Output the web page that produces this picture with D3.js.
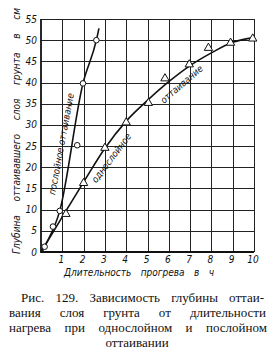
<!DOCTYPE html>
<html>
<head>
<meta charset="utf-8">
<script src="https://cdn.jsdelivr.net/npm/d3@7"></script>
<style>
  html, body { margin: 0; padding: 0; background: #fff; }
  svg { display: block; }
  .tick-lbl { font-family: 'DejaVu Sans Condensed', 'DejaVu Sans', sans-serif; font-style: italic; font-size: 10px; fill: #111; }
  .ax-title { font-family: 'DejaVu Sans Condensed', 'DejaVu Sans', sans-serif; font-style: italic; font-size: 10px; fill: #111; }
  .curve-lbl { font-family: 'DejaVu Sans Condensed', 'DejaVu Sans', sans-serif; font-style: italic; font-size: 9.5px; fill: #111; }
  .caption { font-family: 'Liberation Serif', 'DejaVu Serif', serif; font-size: 13px; fill: #111; }
</style>
</head>
<body>
<div id="chart"></div>
<script>
  'use strict';

  // tick labels
  var xTickLabels = [1, 2, 3, 4, 5, 6, 7, 8, 9, 10];
  var yTickLabels = [0, 5, 10, 15, 20, 25, 30, 35, 40, 45, 50, 55];

  // послойное оттаивание (circles)
  var layeredX = [0.17, 0.56, 0.88, 1.7, 1.97, 2.6];
  var layeredY = [1.25, 6.0, 9.7, 25.2, 39.8, 50];
  // line as drawn through them
  var layeredLineX = [0.05, 0.17, 0.88, 1.97, 2.6, 2.72];
  var layeredLineY = [0, 1.25, 9.7, 39.8, 50, 52.8];

  // однослойное оттаивание (triangles)
  var singleX = [1.17, 2.0, 3.0, 4.0, 5.04, 5.82, 6.96, 7.86, 8.9, 9.94];
  var singleY = [9.2, 16.5, 24.8, 30.8, 35.4, 41.2, 44.5, 48.4, 49.6, 50.6];
  var singleLineX = [0, 1, 2, 3, 4, 5, 6, 7, 8, 9, 10];
  var singleLineY = [0, 8.3, 16.5, 24.5, 30.9, 35.8, 40.2, 44.0, 47.0, 49.5, 50.6];

  var yTitle = 'Глубина оттаивавшего слоя грунта в см';
  var xTitle = 'Длительность прогрева в ч';
  var captionLines = [
    'Рис. 129. Зависимость глубины оттаи-',
    'вания слоя грунта от длительности',
    'нагрева при однослойном и послойном',
    'оттаивании'
  ];

  var W = 276, H = 354;
  var area = { left: 41, right: 254, top: 19, bottom: 252 };

  var svg = d3.select('#chart').append('svg')
    .attr('width', W)
    .attr('height', H);

  svg.append('rect').attr('width', W).attr('height', H).attr('fill', '#fff');

  var x = d3.scaleLinear().domain([0, 10]).range([area.left, area.right]);
  var y = d3.scaleLinear().domain([0, 55]).range([area.bottom, area.top]);

  // grid
  var grid = svg.append('g').attr('stroke', '#222').attr('stroke-width', 1);
  grid.selectAll('line.v')
    .data(xTickLabels)
    .enter().append('line')
      .attr('x1', function(d) { return Math.round(x(d)) + 0.5; })
      .attr('x2', function(d) { return Math.round(x(d)) + 0.5; })
      .attr('y1', y(55))
      .attr('y2', y(0));
  grid.selectAll('line.h')
    .data(yTickLabels.slice(1))
    .enter().append('line')
      .attr('x1', x(0))
      .attr('x2', x(10))
      .attr('y1', function(d) { return Math.round(y(d)) + 0.5; })
      .attr('y2', function(d) { return Math.round(y(d)) + 0.5; });

  // axes lines (heavier)
  svg.append('line')
    .attr('x1', x(0)).attr('x2', x(0)).attr('y1', y(55)).attr('y2', y(0) + 1)
    .attr('stroke', '#111').attr('stroke-width', 1.8);
  svg.append('line')
    .attr('x1', x(0)).attr('x2', x(10)).attr('y1', y(0)).attr('y2', y(0))
    .attr('stroke', '#111').attr('stroke-width', 1.8);

  // tick labels
  svg.append('g').selectAll('text')
    .data(yTickLabels)
    .enter().append('text')
      .attr('class', 'tick-lbl')
      .attr('x', x(0) - 4)
      .attr('y', function(d) { return y(d) + 3.5; })
      .attr('text-anchor', 'end')
      .text(function(d) { return d; });
  svg.append('g').selectAll('text')
    .data(xTickLabels)
    .enter().append('text')
      .attr('class', 'tick-lbl')
      .attr('x', function(d) { return x(d) - 1; })
      .attr('y', y(0) + 11)
      .attr('text-anchor', 'middle')
      .text(function(d) { return d; });

  // spread words evenly between x0 and x1
  function justify(parent, str, cls, x0, x1, yy) {
    var words = str.split(' ');
    var nodes = words.map(function(w) {
      return parent.append('text').attr('class', cls).attr('y', yy).text(w);
    });
    var widths = nodes.map(function(n) { return n.node().getComputedTextLength(); });
    var total = d3.sum(widths);
    var gap = words.length > 1 ? (x1 - x0 - total) / (words.length - 1) : 0;
    var cx = x0;
    nodes.forEach(function(n, i) {
      n.attr('x', cx);
      cx += widths[i] + gap;
    });
  }

  var yt = svg.append('g').attr('transform', 'translate(20,254) rotate(-90)');
  justify(yt, yTitle, 'ax-title', 0, 246, 0);

  justify(svg, xTitle, 'ax-title', 64, 214, 276);

  // curves
  var lineGen = d3.line()
    .curve(d3.curveMonotoneX)
    .x(function(d) { return x(d[0]); })
    .y(function(d) { return y(d[1]); });

  svg.append('path')
    .datum(layeredLineX.map(function(v, i) { return [v, layeredLineY[i]]; }))
    .attr('fill', 'none')
    .attr('stroke', '#111')
    .attr('stroke-width', 1.6)
    .attr('d', lineGen);

  svg.append('path')
    .datum(singleLineX.map(function(v, i) { return [v, singleLineY[i]]; }))
    .attr('fill', 'none')
    .attr('stroke', '#111')
    .attr('stroke-width', 1.6)
    .attr('d', lineGen);

  svg.append('g').selectAll('circle')
    .data(layeredX.map(function(v, i) { return [v, layeredY[i]]; }))
    .enter().append('circle')
      .attr('cx', function(d) { return x(d[0]); })
      .attr('cy', function(d) { return y(d[1]); })
      .attr('r', 2.8)
      .attr('fill', '#fff')
      .attr('stroke', '#111')
      .attr('stroke-width', 1);

  var tri = d3.symbol().type(d3.symbolTriangle).size(30);
  svg.append('g').selectAll('path')
    .data(singleX.map(function(v, i) { return [v, singleY[i]]; }))
    .enter().append('path')
      .attr('d', tri)
      .attr('transform', function(d) { return 'translate(' + x(d[0]) + ',' + (y(d[1]) + 1) + ')'; })
      .attr('fill', '#fff')
      .attr('stroke', '#111')
      .attr('stroke-width', 1);

  // labels along curves
  function curveLabel(str, dx, dy, angle) {
    svg.append('text')
      .attr('class', 'curve-lbl')
      .attr('text-anchor', 'middle')
      .attr('transform', 'translate(' + x(dx) + ',' + y(dy) + ') rotate(' + angle + ')')
      .attr('dy', '0.35em')
      .text(str);
  }
  curveLabel('послойное оттаивание', 0.95, 25.5, -79.5);
  curveLabel('однослойное', 3.3, 22.2, -53);
  curveLabel('оттаивание', 6.6, 39.6, -41);

  // caption
  justify(svg, captionLines[0], 'caption', 21, 264, 302);
  justify(svg, captionLines[1], 'caption', 9, 266, 317);
  justify(svg, captionLines[2], 'caption', 9, 267, 332);
  svg.append('text')
    .attr('class', 'caption')
    .attr('x', 137)
    .attr('y', 347)
    .attr('text-anchor', 'middle')
    .text(captionLines[3]);
</script>
</body>
</html>
